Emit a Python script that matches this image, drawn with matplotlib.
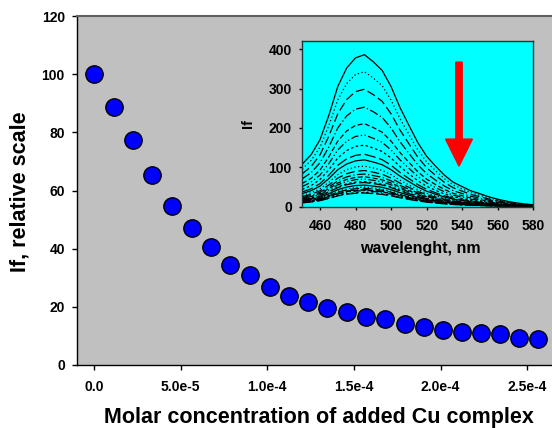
import matplotlib
matplotlib.use("Agg")
import matplotlib.pyplot as plt
from matplotlib.patches import FancyArrow
import numpy as np

plt.rcParams['font.family'] = ['Liberation Sans', 'DejaVu Sans']
plt.rcParams['font.weight'] = 'bold'

# ---- main series: relative fluorescence vs. added Cu complex ----
conc = [0, 1.13e-5, 2.25e-5, 3.37e-5, 4.50e-5, 5.64e-5, 6.76e-5, 7.87e-5,
        8.99e-5, 1.013e-4, 1.124e-4, 1.234e-4, 1.345e-4, 1.459e-4, 1.569e-4,
        1.680e-4, 1.792e-4, 1.903e-4, 2.013e-4, 2.125e-4, 2.234e-4, 2.342e-4,
        2.451e-4, 2.561e-4]
rel_if = [100, 88.8, 77.3, 65.5, 54.6, 47.2, 40.5, 34.5, 30.8, 26.7, 23.8,
          21.5, 19.7, 18.2, 16.5, 15.9, 14.2, 12.9, 12.1, 11.3, 10.9, 10.5,
          9.4, 9.0]

x_ticks = [0, 5e-5, 1e-4, 1.5e-4, 2e-4, 2.5e-4]
x_ticklabels = ["0.0", "5.0e-5", "1.0e-4", "1.5e-4", "2.0e-4", "2.5e-4"]
y_ticks = [0, 20, 40, 60, 80, 100, 120]

# ---- inset: emission spectrum of the free probe (top curve) ----
wavelength = [450, 455, 460, 465, 470, 475, 480, 485, 490, 495, 500, 505,
              510, 515, 520, 525, 530, 535, 540, 545, 550, 555, 560, 565,
              570, 575, 580]
spectrum_top = [108, 132, 170, 232, 305, 352, 378, 386, 368, 346, 305, 252,
                207, 163, 128, 103, 80, 62, 51, 40, 33, 25, 19, 14, 10, 7, 5]
inset_xticks = [460, 480, 500, 520, 540, 560, 580]
inset_yticks = [0, 100, 200, 300, 400]

W, H = 552, 428
fig = plt.figure(figsize=(W / 100, H / 100), dpi=100)

# main axes (extends slightly beyond the right edge, as in the reference)
ax_l, ax_r, ax_b, ax_t = 76.7, 570.6, 365.0, 16.0
ax = fig.add_axes([ax_l / W, 1 - ax_b / H, (ax_r - ax_l) / W, (ax_b - ax_t) / H])
ax.set_facecolor('#C0C0C0')
ax.set_xlim(-1.0e-5, 2.75e-4)
ax.set_ylim(0, 120)
ax.plot(conc, rel_if, 'o', ms=12.5, mfc='#0000FF', mec='black', mew=1.0,
        linestyle='none', zorder=3, clip_on=False)
ax.set_xticks(x_ticks)
ax.set_xticklabels(x_ticklabels)
ax.set_yticks(y_ticks)
ax.tick_params(axis='both', direction='out', length=3.6, width=1,
               labelsize=10, colors='black')
ax.tick_params(axis='x', pad=7)
ax.tick_params(axis='y', pad=5)
ax.tick_params(top=False, right=False)
for lab in ax.get_xticklabels() + ax.get_yticklabels():
    lab.set_fontweight('bold')
ax.spines['right'].set_visible(False)
ax.spines['top'].set_color('#606060')
ax.spines['top'].set_linewidth(1.5)
ax.spines['left'].set_linewidth(1.0)
ax.spines['bottom'].set_linewidth(1.0)

ax.set_xlabel("Molar concentration of added Cu complex", fontsize=15.5,
              fontweight='bold')
ax.xaxis.set_label_coords(0.4906, -0.12)
ax.set_ylabel("If, relative scale", fontsize=15.5, fontweight='bold')
ax.yaxis.set_label_coords(-0.093, 0.496)

# inset axes
in_l, in_r, in_b, in_t = 302.2, 533.3, 206.7, 41.3
axi = fig.add_axes([in_l / W, 1 - in_b / H, (in_r - in_l) / W, (in_b - in_t) / H])
axi.set_facecolor('#00FFFF')
axi.set_xlim(450, 580)
axi.set_ylim(0, 420)

dash_styles = ['-', (0, (1, 2)), (0, (7, 3)), (0, (7, 2, 1, 2)), (0, (4, 2)),
               (0, (6, 2, 1, 2, 1, 2)), (0, (2, 2)), (0, (9, 3))]
spec = np.array(spectrum_top, dtype=float)
for i, f in enumerate(rel_if):
    ls = dash_styles[i % len(dash_styles)]
    axi.plot(wavelength, spec * f / 100.0, color='black', lw=0.9, linestyle=ls)

axi.set_xticks(inset_xticks)
axi.set_yticks(inset_yticks)
axi.tick_params(axis='both', direction='out', length=2.5, width=1,
                labelsize=10)
axi.tick_params(axis='x', pad=6)
axi.tick_params(axis='y', pad=5)
for lab in axi.get_xticklabels() + axi.get_yticklabels():
    lab.set_fontweight('bold')
for s in axi.spines.values():
    s.set_color('#1a3a3a')
    s.set_linewidth(1.0)
axi.set_xlabel("wavelenght, nm", fontsize=11.5, fontweight='bold')
axi.xaxis.set_label_coords(0.51, -0.205)
axi.set_ylabel("If", fontsize=10.5, fontweight='bold')
axi.yaxis.set_label_coords(-0.204, 0.506)

# red arrow indicating quenching
arrow = FancyArrow(538.2, 367, 0, -264, width=3.6, head_width=15.1,
                   head_length=68.6, length_includes_head=True,
                   color='#FF0000', zorder=5)
axi.add_patch(arrow)

fig.savefig("out.png", dpi=100)
